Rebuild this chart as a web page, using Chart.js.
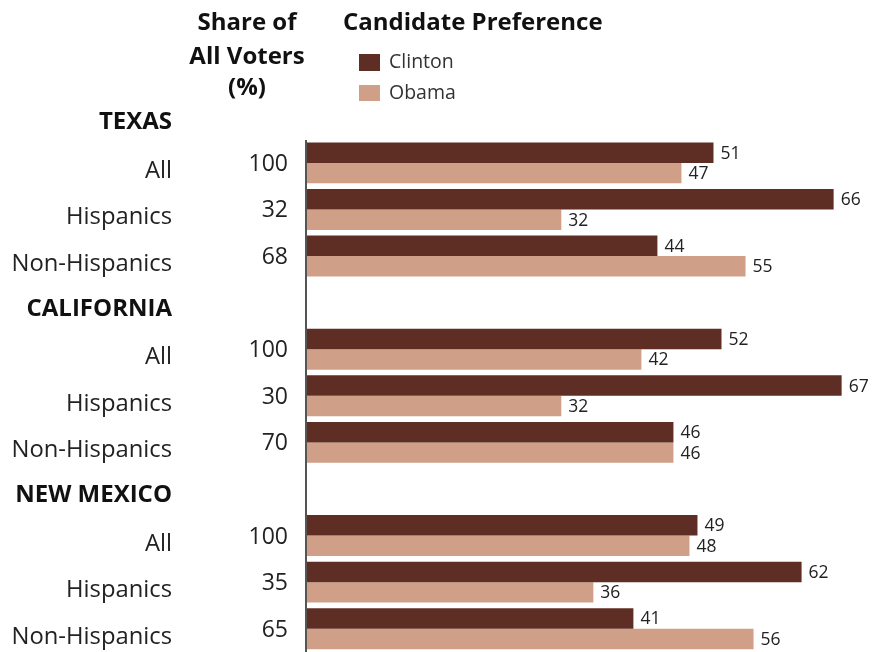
<!DOCTYPE html>
<html>
<head>
<meta charset="utf-8">
<script src="https://cdn.jsdelivr.net/npm/chart.js@4"></script>
<style>
  html, body { margin: 0; padding: 0; background: #fff; overflow: hidden; }
  #wrap { width: 874px; height: 652px; position: relative; }
</style>
</head>
<body>
<div id="wrap"><canvas id="myChart"></canvas></div>
<script>
// datos
const states = ['TEXAS', 'CALIFORNIA', 'NEW MEXICO'];
const groups = ['All', 'Hispanics', 'Non-Hispanics'];
const share = [100, 32, 68, 100, 30, 70, 100, 35, 65];
const clinton = [51, 66, 44, 52, 67, 46, 49, 62, 41];
const obama = [47, 32, 55, 42, 32, 46, 48, 36, 56];

// filas: cabecera de estado + 3 grupos (la cabecera va sin barras)
const labels = [];
const isHeader = [];
const shareRows = [];
const clintonRows = [];
const obamaRows = [];
states.forEach((s, i) => {
  labels.push(s); isHeader.push(true);
  shareRows.push(null); clintonRows.push(null); obamaRows.push(null);
  groups.forEach((g, j) => {
    const k = i * groups.length + j;
    labels.push(g); isHeader.push(false);
    shareRows.push(share[k]); clintonRows.push(clinton[k]); obamaRows.push(obama[k]);
  });
});

const FONT = '"Open Sans", "Noto Sans", sans-serif';

const textPlugin = {
  id: 'textos',
  afterDatasetsDraw(chart) {
    const c = chart.ctx;
    const y = chart.scales.y;
    const x = chart.scales.x;
    c.save();

    // linea del eje
    const x0 = x.getPixelForValue(0) + 1;
    c.strokeStyle = '#555';
    c.lineWidth = 2;
    c.beginPath();
    c.moveTo(x0, y.getPixelForValue(1) - 23);
    c.lineTo(x0, chart.chartArea.bottom);
    c.stroke();

    c.textBaseline = 'alphabetic';
    labels.forEach((lab, i) => {
      const yc = y.getPixelForValue(i);
      if (isHeader[i]) {
        c.font = 'bold 24px ' + FONT;
        c.fillStyle = '#111';
        c.textAlign = 'right';
        c.fillText(lab, 172, yc + 13);
      } else {
        c.font = '23.8px ' + FONT;
        c.fillStyle = '#222';
        c.textAlign = 'right';
        c.fillText(lab, 172, yc + 15);
        c.font = '23px ' + FONT;
        c.fillText(String(shareRows[i]), 288, yc + 8);
      }
    });

    // valores al final de cada barra
    c.font = '17.5px ' + FONT;
    c.fillStyle = '#222';
    c.textAlign = 'left';
    chart.data.datasets.forEach((ds, d) => {
      chart.getDatasetMeta(d).data.forEach((bar, i) => {
        if (ds.data[i] == null) return;
        c.fillText(String(ds.data[i]), bar.x + 7, bar.y + 6);
      });
    });

    // cabeceras
    c.font = 'bold 24px ' + FONT;
    c.fillStyle = '#111';
    c.textAlign = 'center';
    c.fillText('Share of', 247, 30);
    c.fillText('All Voters', 247, 64);
    c.fillText('(%)', 247, 95);
    c.textAlign = 'left';
    c.fillText('Candidate Preference', 343, 30);

    // leyenda
    c.fillStyle = chart.data.datasets[0].backgroundColor;
    c.fillRect(359, 54, 21, 17);
    c.fillStyle = chart.data.datasets[1].backgroundColor;
    c.fillRect(359, 85, 21, 16);
    c.font = '19.5px ' + FONT;
    c.fillStyle = '#333';
    c.fillText(chart.data.datasets[0].label, 389, 68);
    c.fillText(chart.data.datasets[1].label, 389, 99);

    c.restore();
  }
};

const ctx = document.getElementById('myChart').getContext('2d');
const myChart = new Chart(ctx, {
  type: 'bar',
  data: {
    labels: labels,
    datasets: [
      { label: 'Clinton', data: clintonRows, backgroundColor: '#5e2e24' },
      { label: 'Obama', data: obamaRows, backgroundColor: '#cfa087' }
    ]
  },
  options: {
    indexAxis: 'y',
    responsive: true,
    maintainAspectRatio: false,
    animation: false,
    layout: { padding: { left: 305, top: 93, right: 0, bottom: 0 } },
    datasets: { bar: { categoryPercentage: 0.88, barPercentage: 1.0 } },
    scales: {
      x: { display: false, min: 0, max: 71.04 },
      y: { display: false }
    },
    plugins: {
      legend: { display: false },
      tooltip: { enabled: false }
    }
  },
  plugins: [textPlugin]
});
</script>
</body>
</html>
